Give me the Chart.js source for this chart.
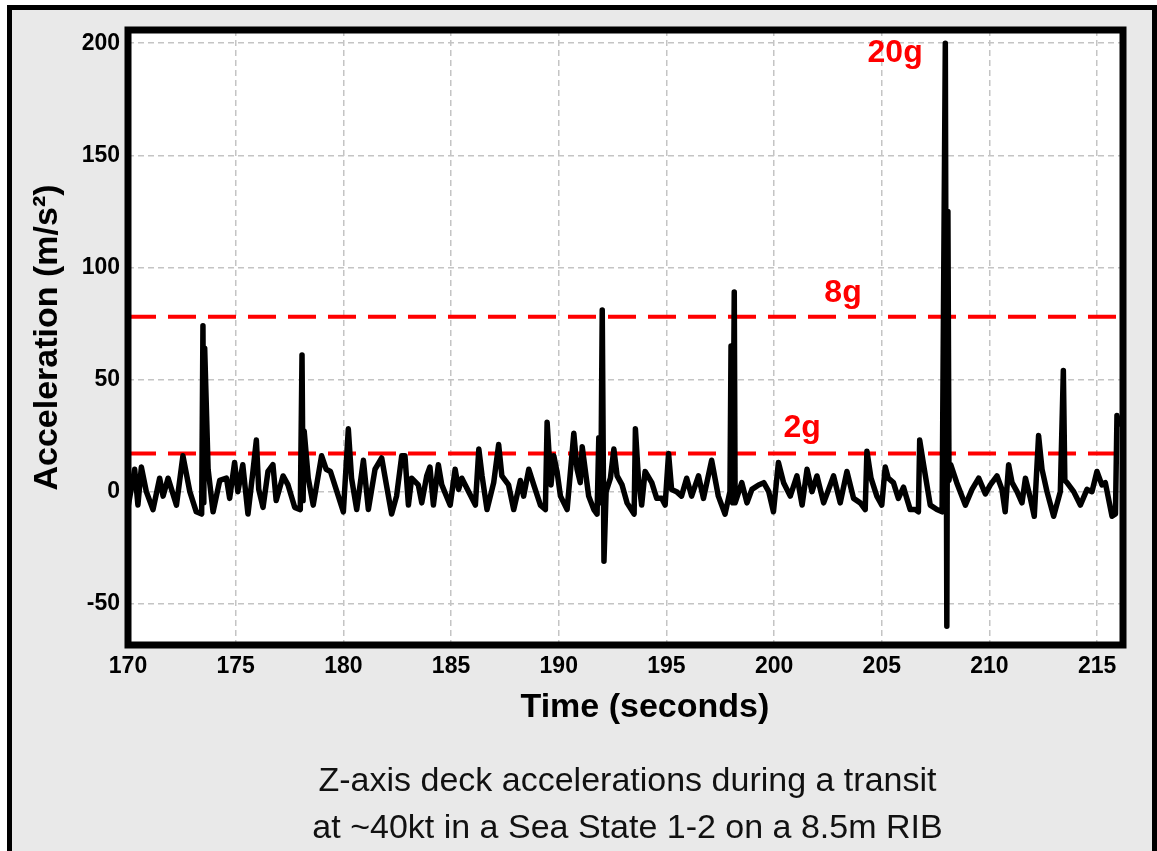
<!DOCTYPE html>
<html>
<head>
<meta charset="utf-8">
<script src="https://cdn.jsdelivr.net/npm/chart.js@4"></script>
<style>
  body { margin: 0; background: #fff; }
  #wrap { position: relative; width: 1157px; height: 851px; overflow: hidden; }
  #frame { position: absolute; left: 7px; top: 5px; width: 1140px; height: 900px;
           border: 5px solid #000; border-bottom: none; background: #e9e9e9; }
  #c { position: absolute; left: 0; top: 0; }
  #caption { position: absolute; left: 130px; top: 756px; width: 995px; text-align: center;
             font: 34px "Liberation Sans", Arial, sans-serif; line-height: 47px; color: #111; }
</style>
</head>
<body>
<div id="wrap">
  <div id="frame"></div>
  <canvas id="c" width="1157" height="851"></canvas>
  <div id="caption">Z-axis deck accelerations during a transit<br>at ~40kt in a Sea State 1-2 on a 8.5m RIB</div>
</div>
<script>
// time (s) and z acceleration (m/s²)
const times = [
  170.0, 170.31, 170.46, 170.62, 170.85, 171.16, 171.47, 171.63, 171.86, 172.25,
  172.55, 172.87, 173.17, 173.42, 173.48, 173.52, 173.56, 173.72, 173.95, 174.26,
  174.57, 174.72, 174.95, 175.1, 175.33, 175.57, 175.8, 175.96, 176.07, 176.27,
  176.5, 176.73, 176.88, 177.2, 177.43, 177.74, 178.0, 178.08, 178.13, 178.18,
  178.37, 178.6, 178.99, 179.2, 179.4, 179.7, 180.0, 180.23, 180.38, 180.62,
  180.93, 181.16, 181.47, 181.78, 182.0, 182.24, 182.47, 182.71, 182.86, 183.02,
  183.17, 183.48, 183.64, 183.87, 184.02, 184.18, 184.41, 184.57, 184.96, 185.19,
  185.35, 185.5, 186.13, 186.29, 186.44, 186.67, 186.98, 187.21, 187.36, 187.67,
  187.91, 188.22, 188.37, 188.61, 188.84, 189.15, 189.38, 189.46, 189.64, 189.77,
  189.92, 190.08, 190.39, 190.7, 190.85, 191.0, 191.09, 191.39, 191.63, 191.78,
  191.86, 191.95, 192.02, 192.1, 192.2, 192.4, 192.56, 192.71, 192.94, 193.17,
  193.5, 193.56, 193.7, 193.85, 194.01, 194.32, 194.55, 194.78, 194.94, 195.1,
  195.24, 195.47, 195.7, 195.94, 196.17, 196.49, 196.72, 197.1, 197.41, 197.72,
  197.95, 198.0, 198.08, 198.15, 198.19, 198.5, 198.74, 198.97, 199.28, 199.52,
  199.75, 199.97, 200.2, 200.44, 200.75, 201.06, 201.3, 201.53, 201.76, 201.99,
  202.3, 202.76, 203.07, 203.38, 203.69, 204.0, 204.23, 204.31, 204.5, 204.77,
  205.0, 205.16, 205.3, 205.54, 205.77, 206.01, 206.16, 206.32, 206.55, 206.7,
  206.76, 206.94, 207.25, 207.56, 207.8, 207.95, 208.02, 208.07, 208.12, 208.2,
  208.48, 208.88, 209.19, 209.5, 209.81, 210.04, 210.35, 210.58, 210.73, 210.89,
  211.05, 211.28, 211.51, 211.67, 211.9, 212.08, 212.28, 212.44, 212.67, 212.98,
  213.29, 213.43, 213.5, 213.6, 213.91, 214.22, 214.53, 214.76, 214.99, 215.22,
  215.38, 215.69, 215.85, 215.92, 216.0
];
const accel = [
  -7, 10, -6, 11, 0, -8, 6, -2, 6, -6,
  16, 0, -9, -10, 74, -5, 64, 10, -9, 5,
  6, -3, 13, 0, 12, -10, 9, 23, 1, -7,
  9, 12, -4, 7, 3, -7, -8, 61, -4, 27,
  6, -6, 16, 10, 9, 0, -9, 28, 6, -8,
  14, -8, 10, 15, 3, -10, -2, 16, 16, -6,
  6, 3, -5, 7, 11, -6, 12, 3, -6, 10,
  1, 6, -6, 19, 7, -8, 4, 21, 7, 3,
  -8, 5, -2, 10, 3, -6, -8, 31, 3, 16,
  9, -2, -8, 26, 10, 4, 20, -2, -8, -10,
  24, -5, 81, -31, 0, 6, 19, 7, 3, -5,
  -10, 28, 6, -6, 9, 4, -3, -3, -6, 17,
  1, 0, -2, 6, -2, 7, -3, 14, -2, -10,
  0, 65, -5, 89, -5, 4, -5, 1, 3, 4,
  0, -9, 13, 4, -2, 7, -6, 10, 0, 7,
  -5, 7, -5, 9, -3, -5, -8, 18, 6, -2,
  -6, 11, 6, 4, -3, 2, -3, -8, -8, -9,
  23, 12, -6, -8, -9, 200, -60, 125, 5, 12,
  4, -6, 1, 6, -1, 3, 7, 1, -9, 12,
  4, 0, -5, 6, -3, -11, 25, 10, 0, -11,
  0, 54, 5, 4, 0, -6, 1, 0, 9, 3,
  4, -11, -10, 34, 30
];

const xTicks = [170, 175, 180, 185, 190, 195, 200, 205, 210, 215];
const yTicks = [-50, 0, 50, 100, 150, 200];

// g thresholds (dashed red) and their labels
const thresholdValues = [78, 17];
const markLabels = ['20g', '8g', '2g'];
const markX = [205.62, 203.2, 201.3];
const markY = [195.7, 88.5, 28.4];

const xTitle = 'Time (seconds)';
const FONT = '"Liberation Sans", Arial, Helvetica, sans-serif';

const plotFrame = {
  id: 'plotFrame',
  beforeDraw(chart) {
    const {ctx, chartArea: a} = chart;
    ctx.save();
    ctx.fillStyle = '#fff';
    ctx.fillRect(a.left, a.top, a.right - a.left, a.bottom - a.top);
    ctx.restore();
  },
  afterDatasetsDraw(chart) {
    const {ctx, chartArea: a, scales} = chart;
    ctx.save();
    ctx.strokeStyle = '#000';
    ctx.lineWidth = 7;
    ctx.strokeRect(a.left, a.top, a.right - a.left, a.bottom - a.top);
    ctx.fillStyle = '#f00';
    ctx.font = 'bold 32px ' + FONT;
    ctx.textAlign = 'center';
    ctx.textBaseline = 'middle';
    markLabels.forEach((t, i) => {
      ctx.fillText(t, scales.x.getPixelForValue(markX[i]), scales.y.getPixelForValue(markY[i]));
    });
    // x axis title sits a little right of the plot centre in the original
    ctx.fillStyle = '#000';
    ctx.font = 'bold 34px ' + FONT;
    ctx.fillText(xTitle, scales.x.getPixelForValue(194.0), a.bottom + 63);
    ctx.restore();
  }
};

const xMin = 170, xMax = 216.2;
const datasets = thresholdValues.map(v => ({
  data: [{x: xMin, y: v}, {x: xMax, y: v}],
  borderColor: '#f00',
  borderWidth: 4,
  borderDash: [28, 12],
  pointRadius: 0,
  order: 2
}));
datasets.push({
  data: times.map((t, i) => ({x: t, y: accel[i]})),
  borderColor: '#000',
  borderWidth: 5.5,
  borderJoinStyle: 'round',
  borderCapStyle: 'round',
  pointRadius: 0,
  tension: 0,
  order: 1
});

const tickFont = {family: FONT, size: 23, weight: 'bold'};
const titleFont = {family: FONT, size: 34, weight: 'bold'};
const gridOpts = {color: '#c4c4c4', lineWidth: 1.5, drawTicks: false};

new Chart(document.getElementById('c'), {
  type: 'line',
  data: {datasets},
  options: {
    responsive: false,
    animation: false,
    devicePixelRatio: 1,
    layout: {padding: {left: 0, right: 34, top: 30, bottom: 119}},
    plugins: {legend: {display: false}, tooltip: {enabled: false}},
    scales: {
      x: {
        type: 'linear', min: xMin, max: xMax,
        afterBuildTicks: s => { s.ticks = xTicks.map(v => ({value: v})); },
        afterFit: s => { s.height = 87; },
        grid: gridOpts,
        border: {display: false, dash: [6, 4]},
        ticks: {font: tickFont, color: '#000', padding: 8, maxRotation: 0}
      },
      y: {
        type: 'linear', min: -68.4, max: 205.9,
        afterBuildTicks: s => { s.ticks = yTicks.map(v => ({value: v})); },
        afterFit: s => { s.width = 128; },
        grid: gridOpts,
        border: {display: false, dash: [6, 4]},
        ticks: {font: tickFont, color: '#000', padding: 8},
        title: {display: true, text: 'Acceleration (m/s²)', font: titleFont, color: '#000', padding: {top: 27, bottom: 0}}
      }
    }
  },
  plugins: [plotFrame]
});
</script>
</body>
</html>
